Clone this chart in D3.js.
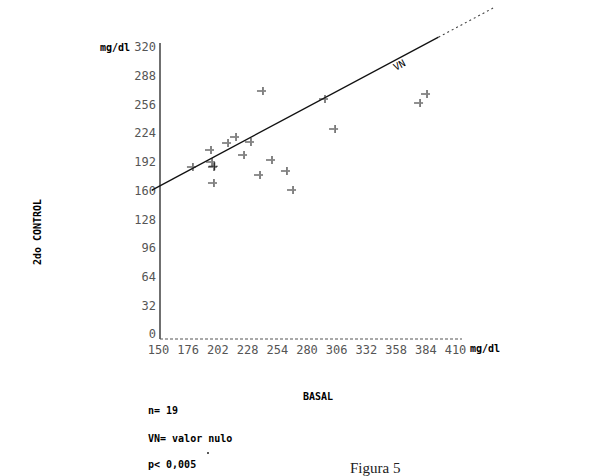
<!DOCTYPE html>
<html><head><meta charset="utf-8">
<script src="https://cdn.jsdelivr.net/npm/d3@7"></script>
<style>
html,body{margin:0;padding:0;background:#fff;}
svg{display:block;}
</style></head>
<body>
<script>
// ---- data ----
const xTicks = [150,176,202,228,254,280,306,332,358,384,410];
const yTicks = [0,32,64,96,128,160,192,224,256,288,320];
const basal   = [180.6,196.4,197.3,199.0,199.0,211.3,218.3,231.4,225.3,249.8,239.3,262.9,268.2,241.9,296.2,305.0,385.5,379.4,199.6];
const control = [186.2,205.1,191.8,186.2,168.3,212.9,219.6,214.0,199.6,194.0,177.3,181.8,160.5,270.9,262.0,228.5,267.6,257.5,187.0];
const vnLineX = [144.7,443.3];
const vnLineY = [160.5,363.4];
const notes = ["n= 19","VN= valor nulo","p< 0,005"];

const W=611,H=476;
const svg=d3.select("body").append("svg").attr("width",W).attr("height",H);
const x=d3.scaleLinear().domain([150,410]).range([158,455]);
const y=d3.scaleLinear().domain([0,320]).range([334,47]);

const tickFont="'DejaVu Sans Mono', monospace";
const boldFont="'DejaVu Sans Mono', monospace";

// y axis
const yAxis=d3.axisLeft(y).tickValues(yTicks).tickSize(0).tickPadding(4);
const gy=svg.append("g").attr("transform","translate(160,0)").call(yAxis);
gy.select(".domain").attr("d","M0,"+(y(320)-4)+"V"+(y(0)+5)).attr("stroke","#222").attr("stroke-width",1.3);
gy.selectAll("text").attr("font-family",tickFont).attr("font-size",12).attr("fill","#555");

// x axis
const xAxis=d3.axisBottom(x).tickValues(xTicks).tickSize(0).tickPadding(6);
const gx=svg.append("g").attr("transform","translate(0,"+(y(0)+5)+")").call(xAxis);
gx.select(".domain").attr("d","M160,0H462").attr("stroke","#555").attr("stroke-width",1.2).attr("stroke-dasharray","3,2");
gx.selectAll("text").attr("font-family",tickFont).attr("font-size",12).attr("fill","#555");

// unit labels
svg.append("text").attr("x",130).attr("y",y(320)+4).attr("text-anchor","end")
  .attr("font-family",boldFont).attr("font-weight","bold").attr("font-size",10).text("mg/dl");
svg.append("text").attr("x",470).attr("y",y(0)+18).attr("text-anchor","start")
  .attr("font-family",boldFont).attr("font-weight","bold").attr("font-size",10).text("mg/dl");

// axis titles
svg.append("text").attr("transform","translate(41,232) rotate(-90)").attr("text-anchor","middle")
  .attr("font-family",boldFont).attr("font-weight","bold").attr("font-size",10).text("2do CONTROL");
svg.append("text").attr("x",318).attr("y",400).attr("text-anchor","middle")
  .attr("font-family",boldFont).attr("font-weight","bold").attr("font-size",10).text("BASAL");

// VN line
const p0=[x(vnLineX[0]),y(vnLineY[0])], p1=[x(vnLineX[1]),y(vnLineY[1])];
const mid=d3.interpolateArray(p0,p1)(0.84);
svg.append("line").attr("x1",p0[0]).attr("y1",p0[1]).attr("x2",mid[0]).attr("y2",mid[1])
  .attr("stroke","#111").attr("stroke-width",1.3);
svg.append("line").attr("x1",mid[0]).attr("y1",mid[1]).attr("x2",p1[0]).attr("y2",p1[1])
  .attr("stroke","#444").attr("stroke-width",1.1).attr("stroke-dasharray","2,3");
const ang=Math.atan2(p1[1]-p0[1],p1[0]-p0[0])*180/Math.PI;
const lp=d3.interpolateArray(p0,p1)(0.73);
svg.append("text").attr("transform","translate("+(lp[0])+","+(lp[1]+11)+") rotate("+ang+")")
  .attr("font-family",boldFont).attr("font-size",10).attr("text-anchor","middle").text("VN");

// points
const pts=basal.map((b,i)=>({b,c:control[i]}));
svg.append("g").selectAll("path").data(pts).join("path")
  .attr("transform",d=>"translate("+x(d.b)+","+y(d.c)+")")
  .attr("d","M-6,0H-1M1,0H3M0,-4V4").attr("stroke","#222").attr("stroke-width",1.1).attr("fill","none");

// notes
const noteY=[414,442,468];
svg.append("g").selectAll("text").data(notes).join("text")
  .attr("x",148).attr("y",(d,i)=>noteY[i])
  .attr("font-family",boldFont).attr("font-weight","bold").attr("font-size",10).text(d=>d);
svg.append("circle").attr("cx",208).attr("cy",453).attr("r",1).attr("fill","#222");

// figure caption
svg.append("text").attr("x",350).attr("y",473).attr("font-family","'Liberation Serif', serif")
  .attr("font-size",15).attr("fill","#222").text("Figura 5");
</script>
</body></html>
